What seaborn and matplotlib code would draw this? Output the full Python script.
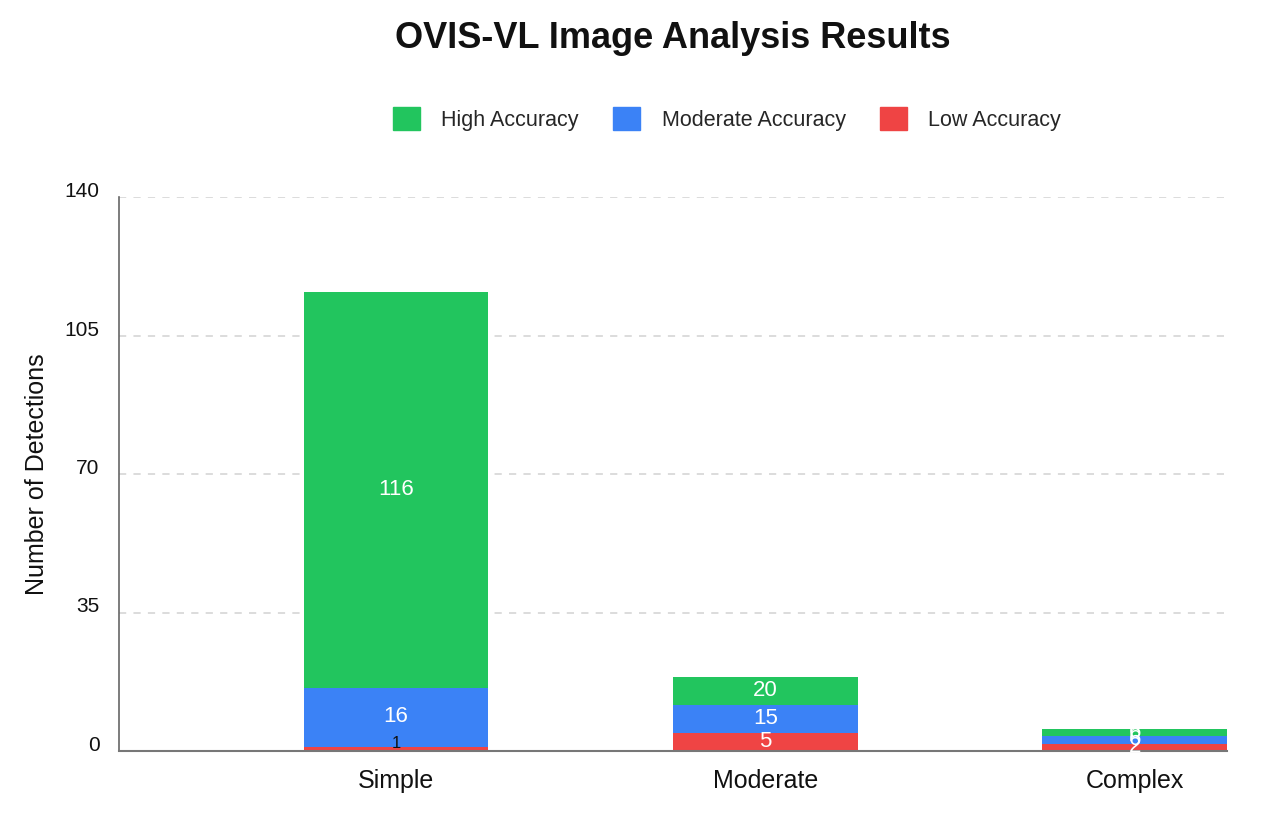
import numpy as np
import pandas as pd
import seaborn as sns
import matplotlib.pyplot as plt
from matplotlib.patches import Patch

categories = ["Simple", "Moderate", "Complex"]
# segment heights as drawn in the chart
low_acc = [1, 4.6, 1.85]
moderate_acc = [15, 7.0, 1.85]
high_acc = [100, 7.0, 1.85]
# numbers printed on the segments
low_labels = ["1", "5", "2"]
moderate_labels = ["16", "15", "6"]
high_labels = ["116", "20", "6"]

GREEN = "#22c55e"
BLUE = "#3b82f6"
RED = "#ef4444"

sns.set_theme(style="white")
plt.rcParams["font.family"] = ["Liberation Sans", "DejaVu Sans"]

df = pd.DataFrame({
    "category": categories,
    "low": low_acc,
    "moderate": moderate_acc,
    "high": high_acc,
})
df["low_mod"] = df["low"] + df["moderate"]

fig = plt.figure(figsize=(12.67, 8.32), dpi=100)
ax = fig.add_axes([119 / 1267, 1 - 751 / 832, (1227 - 119) / 1267, (751 - 197) / 832])

sns.barplot(data=df, x="category", y="low", color=RED, width=0.5,
            saturation=1, ax=ax, linewidth=0)
sns.barplot(data=df, x="category", y="moderate", bottom=df["low"], color=BLUE,
            width=0.5, saturation=1, ax=ax, linewidth=0)
sns.barplot(data=df, x="category", y="high", bottom=df["low_mod"], color=GREEN,
            width=0.5, saturation=1, ax=ax, linewidth=0)

# labels inside segments
for i in range(len(categories)):
    segs = [(0, low_acc[i], low_labels[i]),
            (low_acc[i], moderate_acc[i], moderate_labels[i]),
            (low_acc[i] + moderate_acc[i], high_acc[i], high_labels[i])]
    for base, h, txt in segs:
        if h < 1.5:
            ax.text(i, base + h + 0.9, txt, ha="center", va="center",
                    color="#111111", fontsize=12)
        else:
            ax.text(i, base + h / 2 + 0.1, txt, ha="center", va="center",
                    color="white", fontsize=16)

ax.set_xlim(-0.75, 2.25)
ax.set_ylim(0, 140)
ax.set_yticks([0, 35, 70, 105, 140])
ax.yaxis.grid(True, linestyle=(0, (4, 4)), color="#d9d9d9", linewidth=1.3)
ax.set_axisbelow(True)
ax.tick_params(axis="y", length=0, pad=14, labelsize=15, colors="#111111")
ax.tick_params(axis="x", length=0, pad=13, labelsize=18, colors="#111111")
for lab in ax.get_yticklabels():
    lab.set_va("baseline")
ax.set_xlabel("")
ax.set_ylabel("Number of Detections", fontsize=18, labelpad=11, color="#111111")

for s in ["top", "right"]:
    ax.spines[s].set_visible(False)
ax.spines["left"].set_color("#666666")
ax.spines["bottom"].set_color("#777777")
ax.spines["left"].set_linewidth(1.2)
ax.spines["bottom"].set_linewidth(1.5)

fig.text(673 / 1267, 1 - 39 / 832, "OVIS-VL Image Analysis Results",
         ha="center", va="center", fontsize=26, fontweight="bold", color="#111111")

handles = [Patch(color=GREEN, label="High Accuracy"),
           Patch(color=BLUE, label="Moderate Accuracy"),
           Patch(color=RED, label="Low Accuracy")]
fig.legend(handles=handles, loc="center", bbox_to_anchor=(727 / 1267, 1 - 119 / 832),
           ncol=3, frameon=False, fontsize=15.5, handlelength=1.25, handleheight=1.25,
           handletextpad=1.0, columnspacing=1.6)

fig.savefig("out.png", dpi=100)
